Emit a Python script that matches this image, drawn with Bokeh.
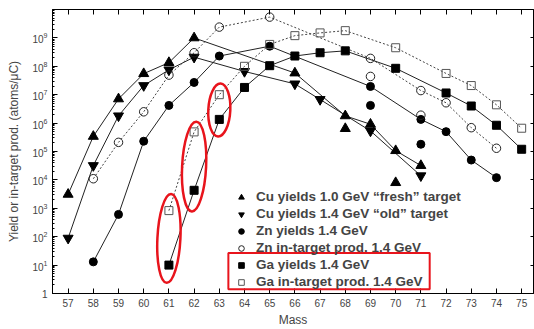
from bokeh.plotting import figure
from bokeh.models import (Range1d, LogAxis, LinearAxis, FixedTicker, LogTickFormatter,
                          Legend, LegendItem, BoxAnnotation)
from bokeh.embed import file_html
from bokeh.resources import INLINE

# ---------------- data ----------------
x_ticks = list(range(57, 76))
y_ticks = [1, 1e1, 1e2, 1e3, 1e4, 1e5, 1e6, 1e7, 1e8, 1e9]

cu_fresh_mass = [57, 58, 59, 60, 61, 62, 66, 68, 69, 70, 71]
cu_fresh_yield = [3.1e3, 3.4e5, 7.1e6, 5.5e7, 1.35e8, 1.0e9, 5.8e7, 1.8e6, 9.1e5, 1.07e5, 3.2e4]
cu_fresh_extra_mass = [68, 70]
cu_fresh_extra_yield = [6.4e5, 8.0e3]

cu_old_mass = [57, 58, 59, 60, 61, 62, 64, 66, 67, 69, 71]
cu_old_yield = [89, 3.2e4, 1.8e6, 2.1e7, 7.5e7, 2.1e8, 6.6e7, 2.4e7, 6.8e6, 5.3e5, 1.4e4]

zn_yield_mass = [58, 59, 60, 61, 62, 63, 65, 69, 71, 72, 73, 74]
zn_yield = [13, 610, 2.3e5, 4.2e6, 2.7e7, 2.3e8, 5.1e8, 1.95e7, 1.35e6, 5.0e5, 5.0e4, 1.2e4]
zn_yield_extra_mass = [69, 71]
zn_yield_extra = [4.2e6, 1.8e5]

zn_prod_mass = [58, 59, 60, 61, 62, 63, 65, 69, 71, 72, 73, 74]
zn_prod = [1.1e4, 2.1e5, 2.5e6, 4.9e7, 3.0e8, 2.4e9, 5.4e9, 1.9e8, 1.4e7, 5.2e6, 6.9e5, 1.3e5]
zn_prod_extra_mass = [69, 71]
zn_prod_extra = [4.4e7, 1.9e6]

ga_mass = [61, 62, 63, 64, 65, 66, 67, 68, 70, 72, 73, 74, 75]
ga_yield = [10, 4.3e3, 1.35e6, 1.8e7, 1.05e8, 2.3e8, 3.0e8, 3.5e8, 8.5e7, 1.15e7, 4.0e6, 8.4e5, 1.2e5]
ga_prod = [830, 4.9e5, 1.0e7, 1.0e8, 5.9e8, 1.2e9, 1.5e9, 1.8e9, 4.5e8, 5.6e7, 2.1e7, 4.4e6, 6.6e5]

labels = ["Cu yields 1.0 GeV \u201cfresh\u201d target",
          "Cu yields 1.4 GeV \u201cold\u201d target",
          "Zn yields 1.4 GeV",
          "Zn in-target prod. 1.4 GeV",
          "Ga yields 1.4 GeV",
          "Ga in-target prod. 1.4 GeV"]

# highlighted (red) annotations
ellipse_mass = [61, 62, 63]
ellipse_center = [10 ** 1.94, 10 ** 4.47, 10 ** 6.46]
ellipse_w_px = [23, 24, 22]
ellipse_h_px = [89, 90, 53]

FONT = "Liberation Sans"

p = figure(width=534, height=329, y_axis_type="log",
           x_range=Range1d(56.38, 75.47), y_range=Range1d(1, 1e10),
           output_backend="svg", toolbar_location=None,
           min_border_left=52, min_border_right=1, min_border_top=9, min_border_bottom=33)
p.xgrid.visible = False
p.ygrid.visible = False
p.outline_line_color = "black"
p.outline_line_width = 1

# bottom axis
xa = p.xaxis[0]
xa.ticker = FixedTicker(ticks=x_ticks)
xa.major_tick_in = 5
xa.major_tick_out = 0
xa.minor_tick_line_color = None
xa.major_label_text_font = FONT
xa.major_label_text_font_size = "10px"
xa.major_label_standoff = 5
xa.axis_label = "Mass"
xa.axis_label_text_font = FONT
xa.axis_label_text_font_size = "12px"
xa.axis_label_text_font_style = "normal"
xa.axis_label_standoff = 3

# left axis
ya = p.yaxis[0]
ya.ticker = FixedTicker(ticks=y_ticks,
                        minor_ticks=[m * 10 ** k for k in range(10) for m in range(2, 10)])
ya.formatter = LogTickFormatter(min_exponent=1)
ya.major_tick_in = 5
ya.major_tick_out = 0
ya.minor_tick_in = 2
ya.minor_tick_out = 0
ya.major_label_text_font = FONT
ya.major_label_text_font_size = "10px"
ya.major_label_standoff = 5
ya.axis_label = "Yield or in-target prod. (atoms/\u03bcC)"
ya.axis_label_text_font = FONT
ya.axis_label_text_font_size = "12px"
ya.axis_label_text_font_style = "normal"
ya.axis_label_standoff = 8

# top / right axes (ticks only, labels not drawn)
top = LinearAxis(ticker=FixedTicker(ticks=x_ticks), major_label_text_font_size="1px",
                 major_label_text_color=None,
                 major_tick_in=5, major_tick_out=0, minor_tick_line_color=None,
                 major_label_standoff=0)
p.add_layout(top, "above")
right = LogAxis(ticker=FixedTicker(ticks=y_ticks), major_label_text_font_size="1px",
                major_label_text_color=None,
                major_tick_in=3, major_tick_out=0, minor_tick_line_color=None,
                major_label_standoff=0)
p.add_layout(right, "right")

SOLID = dict(line_color="#222222", line_width=1)
DOT = dict(line_color="#444444", line_width=1, line_dash="2 2")

# lines
p.line(cu_fresh_mass, cu_fresh_yield, **SOLID)
p.line(cu_old_mass, cu_old_yield, **SOLID)
p.line(zn_yield_mass, zn_yield, **SOLID)
p.line(zn_prod_mass, zn_prod, **DOT)
p.line(ga_mass, ga_yield, **SOLID)
p.line(ga_mass, ga_prod, **DOT)

# markers
r1 = p.scatter(cu_fresh_mass, cu_fresh_yield, marker="triangle", size=10, color="black")
p.scatter(cu_fresh_extra_mass, cu_fresh_extra_yield, marker="triangle", size=10, color="black")
r2 = p.scatter(cu_old_mass, cu_old_yield, marker="inverted_triangle", size=10, color="black")
r3 = p.scatter(zn_yield_mass, zn_yield, marker="circle", size=8, color="black")
p.scatter(zn_yield_extra_mass, zn_yield_extra, marker="circle", size=8, color="black")
r4 = p.scatter(zn_prod_mass, zn_prod, marker="circle", size=8.5, fill_alpha=0,
               line_color="#222222", line_width=1)
p.scatter(zn_prod_extra_mass, zn_prod_extra, marker="circle", size=8.5, fill_alpha=0,
          line_color="#222222", line_width=1)
r5 = p.scatter(ga_mass, ga_yield, marker="square", size=8, color="black")
r6 = p.scatter(ga_mass, ga_prod, marker="square", size=8, fill_alpha=0,
               line_color="#555555", line_width=1)

# red highlight ellipses and box
p.ellipse(x=ellipse_mass, y=ellipse_center, width=ellipse_w_px, height=ellipse_h_px,
          width_units="screen", height_units="screen", angle=-0.05,
          fill_alpha=0, line_color="#e8141c", line_width=2.5)
p.add_layout(BoxAnnotation(left=63.36, right=71.35, bottom=10 ** 0.15, top=10 ** 1.43,
                           fill_alpha=0, line_color="#e8141c", line_width=2, line_alpha=1))

legend = Legend(items=[LegendItem(label=l, renderers=[r]) for l, r in
                       zip(labels, [r1, r2, r3, r4, r5, r6])],
                location=(178, 0), orientation="vertical",
                glyph_width=14, glyph_height=14, label_height=14, spacing=2,
                padding=4, margin=0, label_standoff=8,
                label_text_font=FONT, label_text_font_size="13.5px",
                label_text_font_style="bold", border_line_alpha=0,
                background_fill_alpha=0)
p.add_layout(legend, "center")

open("out.html", "w").write(file_html(p, INLINE))
